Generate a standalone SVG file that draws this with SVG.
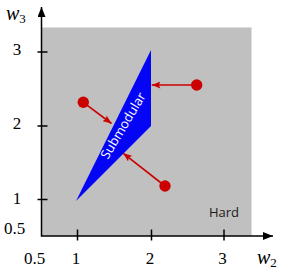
<svg xmlns="http://www.w3.org/2000/svg" width="290" height="276" viewBox="0 0 290 276">
<style>
.num{font-family:"Liberation Serif","DejaVu Serif",serif;font-size:17px;fill:#000}
.var{font-family:"Liberation Serif","DejaVu Serif",serif;font-style:italic;font-size:20px;fill:#000}
.sub{font-family:"Liberation Serif","DejaVu Serif",serif;font-size:13px;fill:#000}
.ax{stroke:#000;stroke-width:1.5;fill:none}
.red{stroke:#cc0000;stroke-width:1.6;fill:none}
.dot{fill:#cc0000}
.lbl{font-family:"Open Sans","DejaVu Sans",sans-serif;font-size:13px}
</style>
<defs>
<marker id="ah" viewBox="0 0 10 8" refX="10" refY="4" markerWidth="10" markerHeight="8" markerUnits="userSpaceOnUse" orient="auto">
<path d="M0,0 L10,4 L0,8 Z" fill="#000"/>
</marker>
<marker id="rh" viewBox="0 0 10 8" refX="10" refY="4" markerWidth="9" markerHeight="7" markerUnits="userSpaceOnUse" orient="auto">
<path d="M0,0 L10,4 L0,8 L2,4 Z" fill="#cc0000"/>
</marker>
</defs>
<g id="hard">
<rect x="41.5" y="27.5" width="210" height="208.5" fill="#c0c0c0"/>
<text class="lbl" x="224" y="217" text-anchor="middle" fill="#1a1a1a">Hard</text>
</g>
<g id="submodular">
<polygon points="76,201 151,50 151,126" fill="#0505f5"/>
<text class="lbl" x="0" y="0" text-anchor="middle" fill="#fff" font-size="13.5" transform="translate(127,128) rotate(-59)">Submodular</text>
</g>
<g id="axes">
<line class="ax" x1="41.5" y1="236" x2="273" y2="236" marker-end="url(#ah)"/>
<line class="ax" x1="41.5" y1="236.7" x2="41.5" y2="7" marker-end="url(#ah)"/>
<line class="ax" x1="77.5" y1="229.5" x2="77.5" y2="240.5"/>
<line class="ax" x1="151.5" y1="229.5" x2="151.5" y2="240.5"/>
<line class="ax" x1="224" y1="229.5" x2="224" y2="240.5"/>
<line class="ax" x1="37.5" y1="52" x2="47.5" y2="52"/>
<line class="ax" x1="37.5" y1="126" x2="47.5" y2="126"/>
<line class="ax" x1="37.5" y1="199.5" x2="47.5" y2="199.5"/>
<text class="num" x="17" y="55" text-anchor="middle">3</text>
<text class="num" x="17" y="129" text-anchor="middle">2</text>
<text class="num" x="17" y="203.5" text-anchor="middle">1</text>
<text class="num" x="14.5" y="233.5" text-anchor="middle">0.5</text>
<text class="num" x="34.5" y="264" text-anchor="middle">0.5</text>
<text class="num" x="76" y="264" text-anchor="middle">1</text>
<text class="num" x="150" y="264" text-anchor="middle">2</text>
<text class="num" x="222.5" y="264" text-anchor="middle">3</text>
<text x="6" y="20"><tspan class="var">w</tspan><tspan class="sub" dy="3">3</tspan></text>
<text x="257" y="263.5"><tspan class="var">w</tspan><tspan class="sub" dy="3">2</tspan></text>
</g>
<g id="connectors">
<line class="red" x1="83.3" y1="102.3" x2="111.5" y2="123.5" marker-end="url(#rh)"/>
<line class="red" x1="196.7" y1="85" x2="151.7" y2="85" marker-end="url(#rh)"/>
<line class="red" x1="165" y1="186" x2="123.3" y2="153.3" marker-end="url(#rh)"/>
</g>
<g id="points">
<circle class="dot" cx="83.3" cy="102.3" r="5.7"/>
<circle class="dot" cx="196.7" cy="85" r="5.7"/>
<circle class="dot" cx="165" cy="186" r="5.7"/>
</g>
</svg>
